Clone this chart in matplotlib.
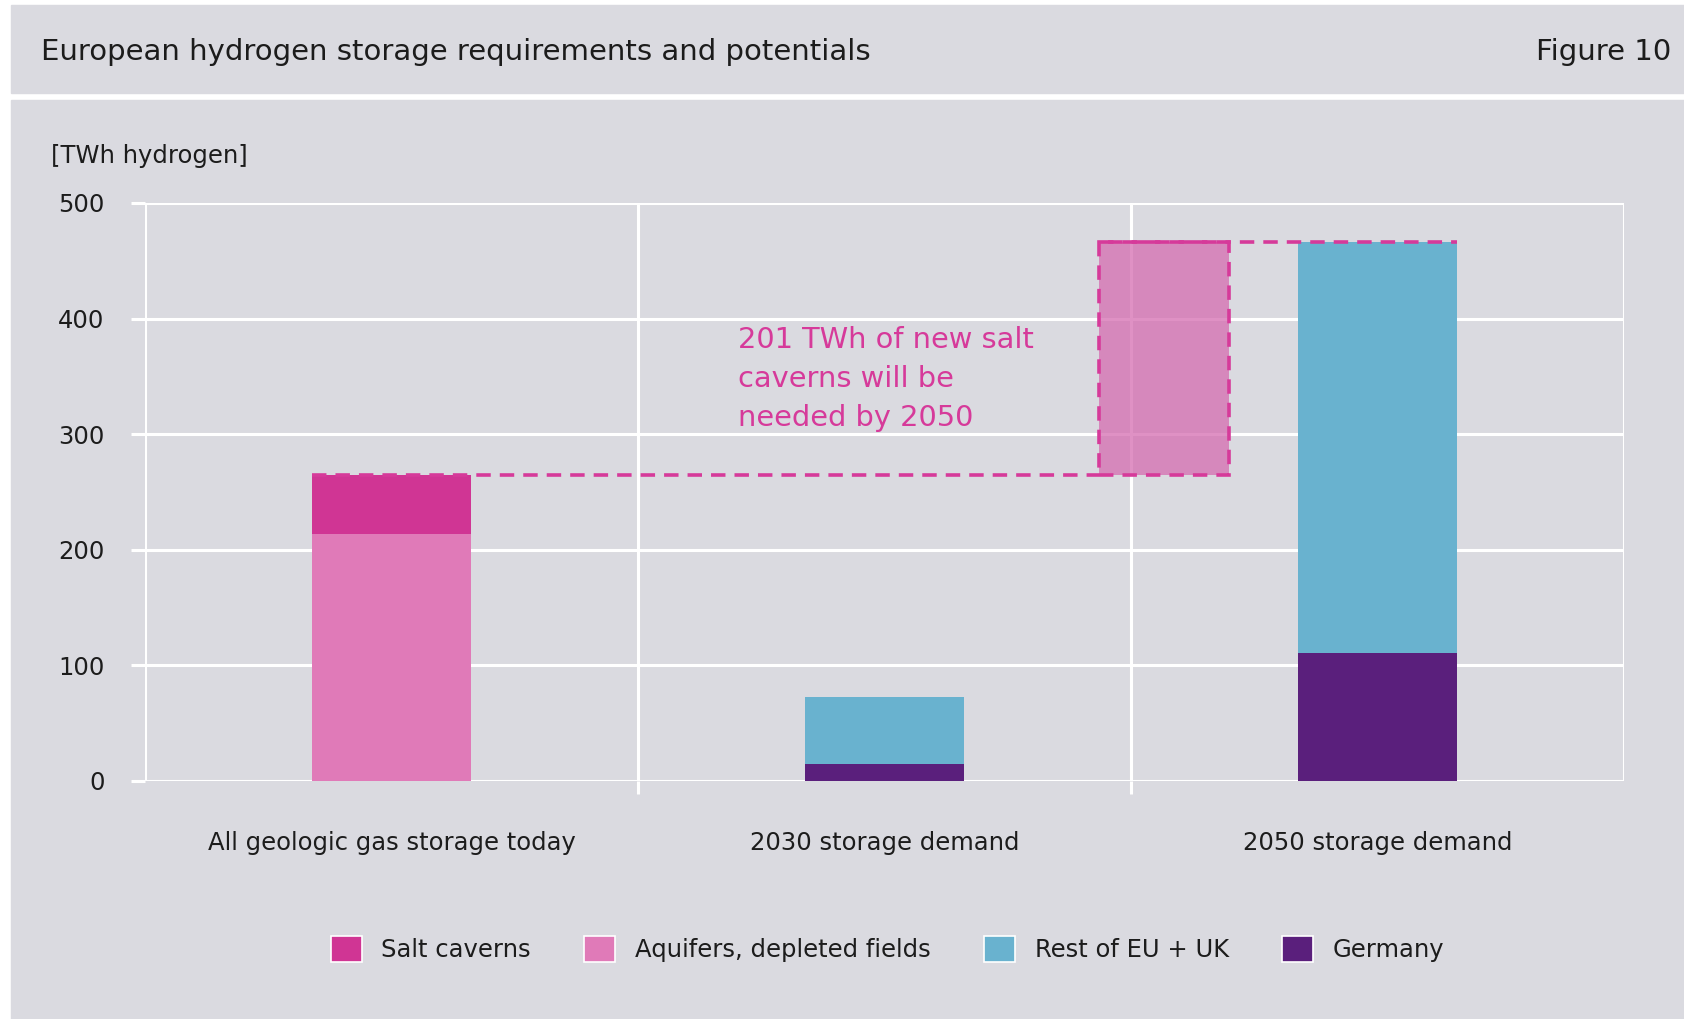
import matplotlib
matplotlib.use("Agg")
import matplotlib.pyplot as plt
from matplotlib.patches import Patch, Rectangle

# ========== DATA ========== #

categories = ["All geologic gas storage today", "2030 storage demand", "2050 storage demand"]
salt_caverns = [51, 0, 0]
aquifers = [214, 0, 0]
germany = [0, 15, 111]
rest_eu_uk = [0, 58, 355]
new_salt_twh = 201
yticks = [0, 100, 200, 300, 400, 500]

# ========== STYLE ========== #

plt.rcParams['font.family'] = ['DejaVu Sans']

BG = "#dadae0"
C_SALT = "#d03594"
C_AQUI = "#e07ab8"
C_REST = "#69b2cf"
C_GER = "#5a1f7c"
C_DASH = "#d63a9a"
C_BOX = "#d56db1"
TXT = "#1c1c1c"
DASH = (0, (4, 2.5))

fig = plt.figure(figsize=(16.84, 10.19), dpi=100)
fig.patch.set_facecolor("white")

# header band and chart panel (behind the axes)
fig.patches.append(Rectangle((10.7 / 1684, 1 - 93 / 1019), 1, 88 / 1019,
                             transform=fig.transFigure, color=BG, zorder=-2))
fig.patches.append(Rectangle((10.7 / 1684, 0), 1, 1 - 100 / 1019,
                             transform=fig.transFigure, color=BG, zorder=-2))

fig.text(41 / 1684, 1 - 52 / 1019, "European hydrogen storage requirements and potentials",
         fontsize=21, color=TXT, va="center", ha="left")
fig.text(1671 / 1684, 1 - 52 / 1019, "Figure 10", fontsize=21, color=TXT,
         va="center", ha="right")
fig.text(51 / 1684, 1 - 156 / 1019, "[TWh hydrogen]", fontsize=17.5, color=TXT,
         va="center", ha="left")

ax = fig.add_axes([145 / 1684, 1 - 781 / 1019, (1624 - 145) / 1684, (781 - 203) / 1019])
ax.set_facecolor(BG)
for s in ax.spines.values():
    s.set_visible(False)

x = range(len(categories))
w = 0.322

ax.bar(x, aquifers, w, color=C_AQUI, zorder=3)
ax.bar(x, salt_caverns, w, bottom=aquifers, color=C_SALT, zorder=3)
ax.bar(x, germany, w, color=C_GER, zorder=3)
ax.bar(x, rest_eu_uk, w, bottom=germany, color=C_REST, zorder=3)

today_total = aquifers[0] + salt_caverns[0]
total_2050 = germany[2] + rest_eu_uk[2]

# gap box between today's capacity and 2050 demand
box_x, box_w = 1.567, 0.263
ax.bar(box_x, new_salt_twh, box_w, bottom=today_total, color=C_BOX, alpha=0.75,
       zorder=4)
ax.bar(box_x, new_salt_twh, box_w, bottom=today_total, fill=False,
       edgecolor=C_DASH, linestyle=DASH, linewidth=2.6, zorder=5)
ax.plot([-w / 2, box_x - box_w / 2], [today_total, today_total], color=C_DASH,
        lw=2.6, ls=DASH, zorder=5)
ax.plot([box_x - box_w / 2, 2 + w / 2], [total_2050, total_2050], color=C_DASH,
        lw=2.6, ls=DASH, zorder=5)

ax.text(0.703, 348, "%d TWh of new salt\ncaverns will be\nneeded by 2050" % new_salt_twh,
        color=C_DASH, fontsize=20.8, va="center", ha="left", linespacing=1.5, zorder=6)

ax.set_xlim(-0.5, 2.5)
ax.set_ylim(0, 500)
ax.set_yticks(yticks)
ax.set_yticklabels([str(t) for t in yticks])
ax.set_xticks(list(x))
ax.set_xticklabels(categories)
ax.set_xticks([0.5, 1.5], minor=True)

ax.grid(axis="y", which="major", color="white", lw=2.2, zorder=1)
ax.grid(axis="x", which="minor", color="white", lw=2.2, zorder=1)
for xe in (-0.5, 2.5):
    ax.axvline(xe, color="white", lw=2.2, zorder=1)
ax.tick_params(axis="y", length=10, width=2.2, color="white", pad=19,
               labelsize=17.5, labelcolor=TXT)
ax.tick_params(axis="x", which="major", length=0, pad=36, labelsize=17.5, labelcolor=TXT)
ax.tick_params(axis="x", which="minor", length=9, width=2.2, color="white")
ax.set_axisbelow(True)

handles = [Patch(facecolor=C_SALT, edgecolor="white", lw=1.2),
           Patch(facecolor=C_AQUI, edgecolor="white", lw=1.2),
           Patch(facecolor=C_REST, edgecolor="white", lw=1.2),
           Patch(facecolor=C_GER, edgecolor="white", lw=1.2)]
labels = ["Salt caverns", "Aquifers, depleted fields", "Rest of EU + UK", "Germany"]
fig.legend(handles, labels, loc="center", bbox_to_anchor=(0.527, 1 - 949 / 1019),
           ncol=4, frameon=False, fontsize=17.5, labelcolor=TXT, handlelength=1.28,
           handleheight=1.28, handletextpad=0.8, columnspacing=2.2)

plt.savefig("out.png", dpi=100, facecolor=fig.get_facecolor())
